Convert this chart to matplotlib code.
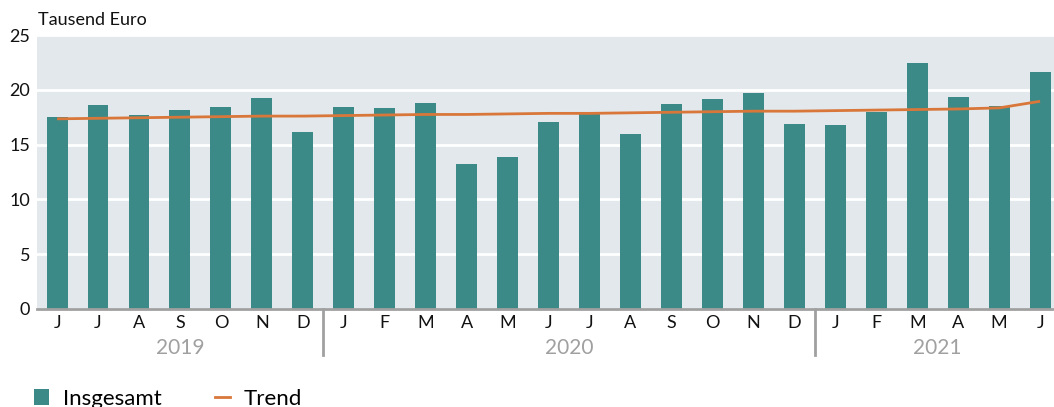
import numpy as np
import matplotlib
matplotlib.use('Agg')
import matplotlib.pyplot as plt
from matplotlib.patches import Patch
from matplotlib.lines import Line2D

plt.rcParams['font.family'] = ['Lato', 'DejaVu Sans']

# --- Daten (Juni 2019 bis Juni 2021) --- #
monate = ['J', 'J', 'A', 'S', 'O', 'N', 'D',
          'J', 'F', 'M', 'A', 'M', 'J', 'J', 'A', 'S', 'O', 'N', 'D',
          'J', 'F', 'M', 'A', 'M', 'J']
jahre = ['2019', '2020', '2021']
monate_pro_jahr = [7, 12, 6]

insgesamt = [17.5, 18.6, 17.7, 18.15, 18.4, 19.25, 16.15,
             18.4, 18.3, 18.8, 13.2, 13.9, 17.1, 17.9, 15.95, 18.7, 19.15, 19.75, 16.9,
             16.75, 18.0, 22.4, 19.3, 18.55, 21.6]
trend = [17.35, 17.4, 17.45, 17.5, 17.55, 17.6, 17.6,
         17.65, 17.7, 17.75, 17.75, 17.8, 17.85, 17.85, 17.9, 17.95, 18.0, 18.05, 18.05,
         18.1, 18.15, 18.2, 18.25, 18.35, 18.95]

c_bar = '#3c8a87'
c_trend = '#d9773a'
c_bg = '#e3e8ec'
c_grau = '#a0a0a0'

fig = plt.figure(figsize=(10.54, 4.07), dpi=100)
ax = fig.add_axes([0.0351, 0.2408, 0.9649, 0.6732])
ax.set_facecolor(c_bg)

x = np.arange(len(insgesamt))
ax.bar(x, insgesamt, width=0.51, color=c_bar, zorder=3)
ax.plot(x, trend, color=c_trend, lw=2.0, zorder=4, solid_capstyle='butt')

ax.set_xlim(-0.49, len(x) - 1 + 0.34)
ax.set_ylim(0, 25)
ax.set_yticks([0, 5, 10, 15, 20, 25])
ax.yaxis.grid(True, color='white', lw=2, zorder=1)
ax.set_axisbelow(True)
for s in ax.spines.values():
    s.set_visible(False)
ax.axhline(0, color=c_grau, lw=2, zorder=5, clip_on=False)

ax.set_xticks(x)
ax.set_xticklabels(monate)
ax.tick_params(axis='both', length=0, labelsize=13, colors='#111111')
ax.tick_params(axis='y', pad=5)
ax.tick_params(axis='x', pad=4)

# Jahres-Trenner und Jahresbeschriftung
grenzen = np.cumsum(monate_pro_jahr)
start = 0
for i, jahr in enumerate(jahre):
    ende = grenzen[i]
    mitte = (start + ende - 1) / 2
    ax.text(mitte, -3.6, jahr, ha='center', va='center', fontsize=15,
            color=c_grau, transform=ax.transData, clip_on=False)
    if i < len(jahre) - 1:
        xl = ende - 0.5
        ax.plot([xl, xl], [0, -4.2], color=c_grau, lw=2, clip_on=False, zorder=5)
    start = ende

fig.text(38 / 1054, 1 - 20 / 407, 'Tausend Euro', fontsize=13, color='#111111',
         ha='left', va='center')

handles = [Patch(facecolor=c_bar, edgecolor='none'),
           Line2D([0], [0], color=c_trend, lw=2)]
fig.legend(handles, ['Insgesamt', 'Trend'], loc='lower left',
           bbox_to_anchor=(0.013, -0.053), ncol=2, frameon=False, fontsize=16,
           handlelength=0.7, handleheight=0.7, handletextpad=0.6,
           columnspacing=2.4)

fig.savefig('out.png', dpi=100)
